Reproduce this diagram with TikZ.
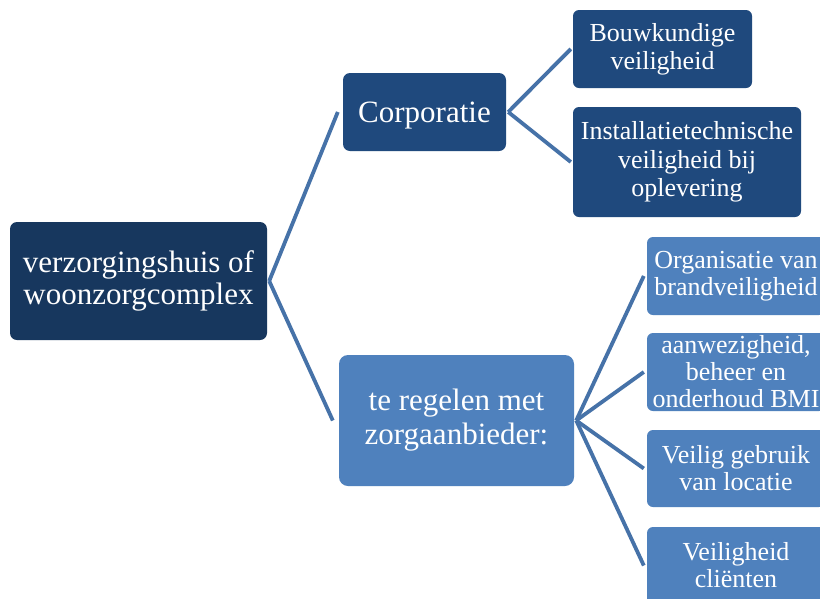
\documentclass[tikz,border=0pt]{standalone}
\usepackage{fontspec}
\setmainfont{Liberation Serif}
\definecolor{rootblue}{HTML}{17375E}
\definecolor{darkblue}{HTML}{1F497D}
\definecolor{midblue}{HTML}{4F81BD}
\definecolor{linkblue}{HTML}{4672A8}
\tikzset{
  box/.style={rounded corners=7pt, inner sep=0pt, text=white, align=center},
  bigtext/.style={font=\fontsize{31}{32}\selectfont},
  smalltext/.style={font=\fontsize{26}{27}\selectfont},
  leaf/.style={box, smalltext, rounded corners=6pt},
  link/.style={draw=linkblue, line width=3.8pt}
}
\begin{document}
\begin{tikzpicture}[x=1pt,y=-1pt]
\useasboundingbox (0,0) rectangle (820,598);
\fill[white] (0,0) rectangle (820,598);
\begin{scope}
\clip (0,0) rectangle (820,598);
% root
\node[box, bigtext, fill=rootblue, minimum width=257pt, minimum height=118pt] (root) at (138.5,281) {verzorgingshuis of\\woonzorgcomplex};
% second level
\node[box, bigtext, fill=darkblue, minimum width=163pt, minimum height=78pt, text height=27pt, text depth=7pt] (corp) at (424.5,112) {Corporatie};
\node[box, fill=midblue, minimum width=235pt, minimum height=131pt, rounded corners=9pt, font=\fontsize{31}{34}\selectfont] (zorg) at (456.5,420.5) {te regelen met\\zorgaanbieder:};
% leaves under Corporatie
\node[leaf, fill=darkblue, minimum width=179pt, minimum height=78pt, font=\fontsize{26}{28}\selectfont] (bouw) at (662.5,49) {Bouwkundige\\veiligheid};
\node[leaf, fill=darkblue, minimum width=228pt, minimum height=110pt, font=\fontsize{26}{28.5}\selectfont] (inst) at (687,162) {Installatietechnische\\veiligheid bij\\oplevering};
% leaves under zorgaanbieder
\node[leaf, fill=midblue, minimum width=178pt, minimum height=78pt] (org) at (736,276) {Organisatie van\\brandveiligheid};
\node[leaf, fill=midblue, minimum width=178pt, minimum height=78pt] (bmi) at (736,372) {aanwezigheid,\\beheer en\\onderhoud BMI};
\node[leaf, fill=midblue, minimum width=178pt, minimum height=77pt] (gebr) at (736,468.5) {Veilig gebruik\\van locatie};
\node[leaf, fill=midblue, minimum width=178pt, minimum height=77pt] (clie) at (736,565.5) {Veiligheid\\cliënten};
% connectors
\coordinate (rootR) at ([xshift=2pt]root.east);
\coordinate (corpR) at ([xshift=2pt]corp.east);
\coordinate (zorgR) at ([xshift=2pt]zorg.east);
\draw[link] (rootR) -- ([xshift=-5pt]corp.west);
\draw[link] (rootR) -- ([xshift=-6pt]zorg.west);
\draw[link] (corpR) -- ([xshift=-2pt]bouw.west);
\draw[link] (corpR) -- ([xshift=-2pt]inst.west);
\draw[link] (zorgR) -- ([xshift=-3pt]org.west);
\draw[link] (zorgR) -- ([xshift=-3pt]bmi.west);
\draw[link] (zorgR) -- ([xshift=-3pt]gebr.west);
\draw[link] (zorgR) -- ([xshift=-3pt]clie.west);
\end{scope}
\end{tikzpicture}
\end{document}
